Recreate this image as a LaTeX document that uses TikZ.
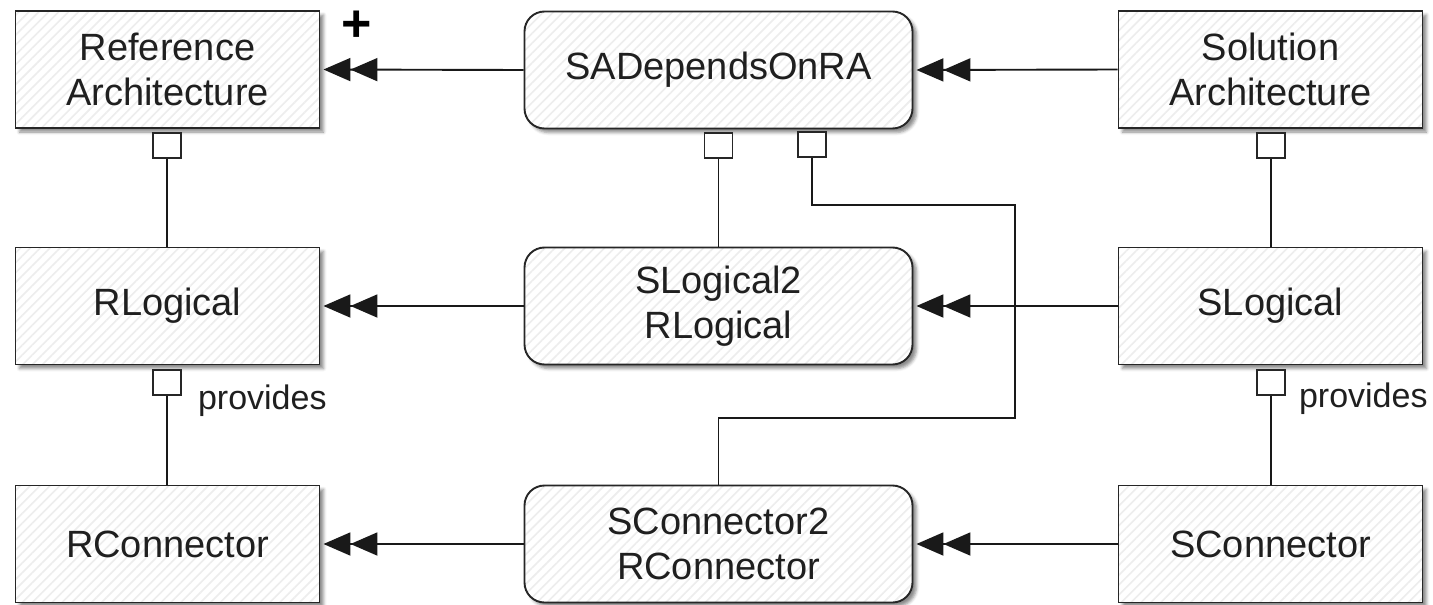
\documentclass[tikz,border=0pt]{standalone}
\usepackage{fontspec}
\setmainfont{Liberation Sans}
\usetikzlibrary{arrows.meta,patterns.meta,shadows.blur}

\begin{document}
\begin{tikzpicture}[x=1pt,y=-1pt,
  box/.style={
    blur shadow={shadow xshift=4pt, shadow yshift=-4pt, shadow blur radius=3pt, shadow opacity=45},
    preaction={fill=white},
    pattern={Lines[angle=45,distance=7pt,line width=1.6pt]}, pattern color=black!7,
    draw=black!85, line width=1.9pt,
    minimum height=117pt, inner sep=0pt, align=center,
    font=\fontsize{38}{45}\selectfont, text=black!88},
  classbox/.style={box, minimum width=304pt},
  assocbox/.style={box, minimum width=388pt, rounded corners=20pt},
  port/.style={draw=black!85, line width=1.7pt, fill=white,
    minimum width=28pt, minimum height=25pt, inner sep=0pt},
  link/.style={draw=black!90, line width=1.9pt},
  depline/.style={link,
    -{Triangle[length=27pt,width=23pt] Triangle[length=27pt,width=23pt]},
    shorten >=3pt},
  rolelabel/.style={anchor=west, inner sep=0pt, text=black!88,
    font=\fontsize{34}{40}\selectfont}
]
\useasboundingbox (0,0) rectangle (1433,605);

% classes and association classes
\node[classbox] (ra)  at (167.5,69.5) {Reference\\Architecture};
\node[assocbox] (dep) at (718.5,70)   {SADependsOnRA};
\node[classbox] (sa)  at (1270.5,69.5){Solution\\Architecture};

\node[classbox] (rl)  at (167.5,306)  {RLogical};
\node[assocbox] (sl2) at (718.5,306)  {SLogical2\\RLogical};
\node[classbox] (sl)  at (1270.5,306) {SLogical};

\node[classbox] (rc)  at (167.5,544)  {RConnector};
\node[assocbox] (sc2) at (718.5,544)  {SConnector2\\RConnector};
\node[classbox] (sc)  at (1270.5,544) {SConnector};

% composition ports
\node[port] (pra)   at (167,145.5)   {};
\node[port] (prl)   at (167,382.5)   {};
\node[port] (pdep1) at (718.5,145.5) {};
\node[port] (pdep2) at (812,144.5)   {};
\node[port] (psa)   at (1271,145.5)  {};
\node[port] (psl)   at (1271,382.5)  {};

% containment lines
\draw[link] (pra.south)   -- (rl.north -| pra.south);
\draw[link] (prl.south)   -- (rc.north -| prl.south);
\draw[link] (pdep1.south) -- (sl2.north -| pdep1.south);
\draw[link] (psa.south)   -- (sl.north -| psa.south);
\draw[link] (psl.south)   -- (sc.north -| psl.south);

% routed link from SADependsOnRA down to SConnector2RConnector
\coordinate (r1) at (1015,205);
\coordinate (r2) at (1015,418);
\draw[link] (pdep2.south) |- (r1) -- (r2) -| (sc2.north);

% dependency arrows
\draw[depline] (dep.west) -- (ra.east);
\draw[depline] (sa.west)  -- (dep.east);
\draw[depline] (sl2.west) -- (rl.east);
\draw[depline] (sl.west)  -- (sl2.east);
\draw[depline] (sc2.west) -- (rc.east);
\draw[depline] (sc.west)  -- (sc2.east);

% labels
\node[rolelabel] (prov1) at ([xshift=16pt,yshift=-18pt]prl.east) {provides};
\node[rolelabel] (prov2) at ([xshift=13pt,yshift=-16pt]psl.east) {provides};
\node[text=black, inner sep=0pt, font=\fontsize{52}{52}\selectfont\bfseries] (plus) at (357,26) {+};
\end{tikzpicture}
\end{document}
